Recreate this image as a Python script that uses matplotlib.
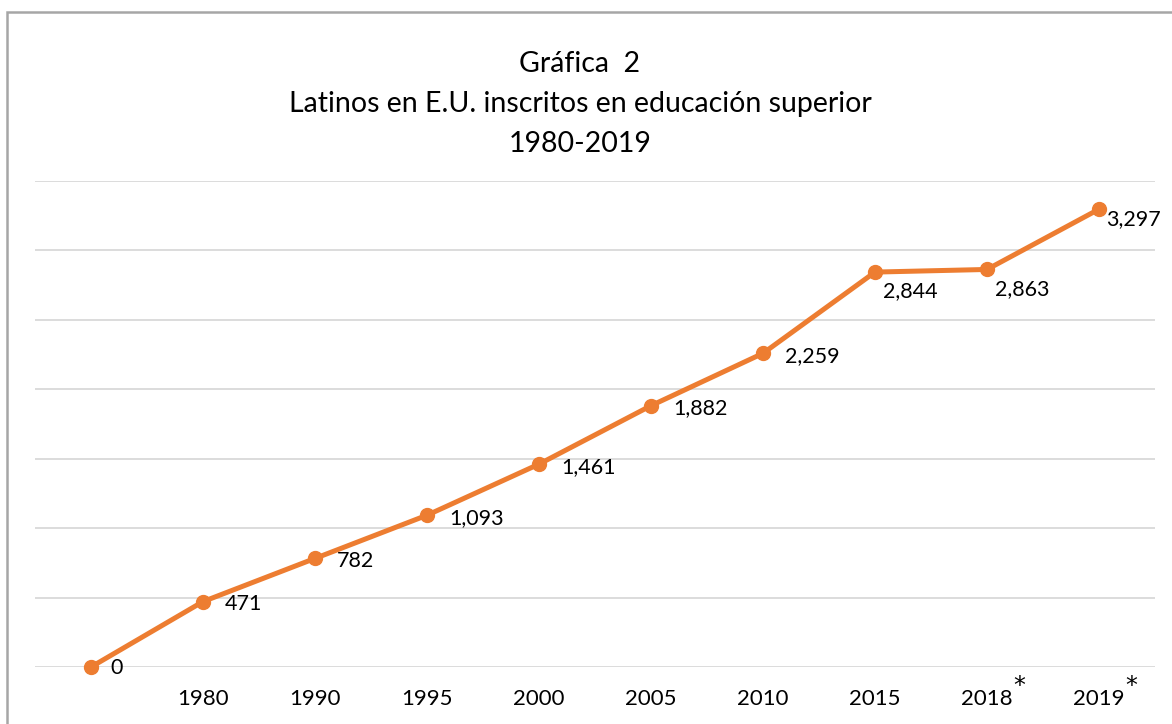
import matplotlib.pyplot as plt

years = ["", "1980", "1990", "1995", "2000", "2005", "2010", "2015", "2018", "2019"]
values = [0, 471, 782, 1093, 1461, 1882, 2259, 2844, 2863, 3297]
starred = ["2018", "2019"]
# label placement per point: (dx, dy) in points
offsets = [(14, -1), (16, -2), (16, -2), (16, -2), (16, -2), (16, -2), (16, -2), (6, -14), (6, -14), (5, -7)]

plt.rcParams['font.family'] = ['Lato', 'DejaVu Sans']
orange = '#ED7D31'

fig = plt.figure(figsize=(11.72, 7.24), dpi=100)
ax = fig.add_axes([35 / 1172, 57 / 724, 1120 / 1172, 486 / 724])

x = list(range(len(years)))
ax.plot(x, values, color=orange, lw=3.6, marker='o', ms=10, solid_capstyle='round', clip_on=False)

for i, v in enumerate(values):
    dx, dy = offsets[i]
    ax.annotate(f"{v:,}", (i, v), xytext=(dx, dy), textcoords='offset points',
                ha='left', va='center', fontsize=15.5, color='#000000')

ax.set_xlim(-0.5, len(years) - 0.5)
ax.set_ylim(0, 3500)
ax.set_yticks(range(0, 3501, 500))
ax.set_yticklabels([])
ax.tick_params(axis='y', length=0)
ax.set_xticks(x)
ax.set_xticklabels(years, fontsize=16)
ax.tick_params(axis='x', length=0, pad=16)
ax.grid(axis='y', color='#d9d9d9', lw=1.3)
ax.set_axisbelow(True)
for s in ax.spines.values():
    s.set_visible(False)

# asterisks after the last two years
for i, y in enumerate(years):
    if y in starred:
        ax.annotate("*", (i, 0), xytext=(23, -5), textcoords='offset points',
                    ha='center', va='top', fontsize=17, family='DejaVu Sans')

fig.text(580 / 1172, 1 - 64 / 724, "Gráfica  2", ha='center', va='center', fontsize=20.5)
fig.text(580 / 1172, 1 - 104 / 724, "Latinos en E.U. inscritos en educación superior", ha='center', va='center', fontsize=20.5)
fig.text(580 / 1172, 1 - 144 / 724, "1980-2019", ha='center', va='center', fontsize=20.5)

# outer frame
fig.add_artist(plt.Rectangle((6.5 / 1172, -0.05), 1.2, 1 - 11.5 / 724 + 0.05, transform=fig.transFigure,
                             fill=False, edgecolor='#a6a6a6', lw=1.8))

fig.savefig("out.png", dpi=100)
